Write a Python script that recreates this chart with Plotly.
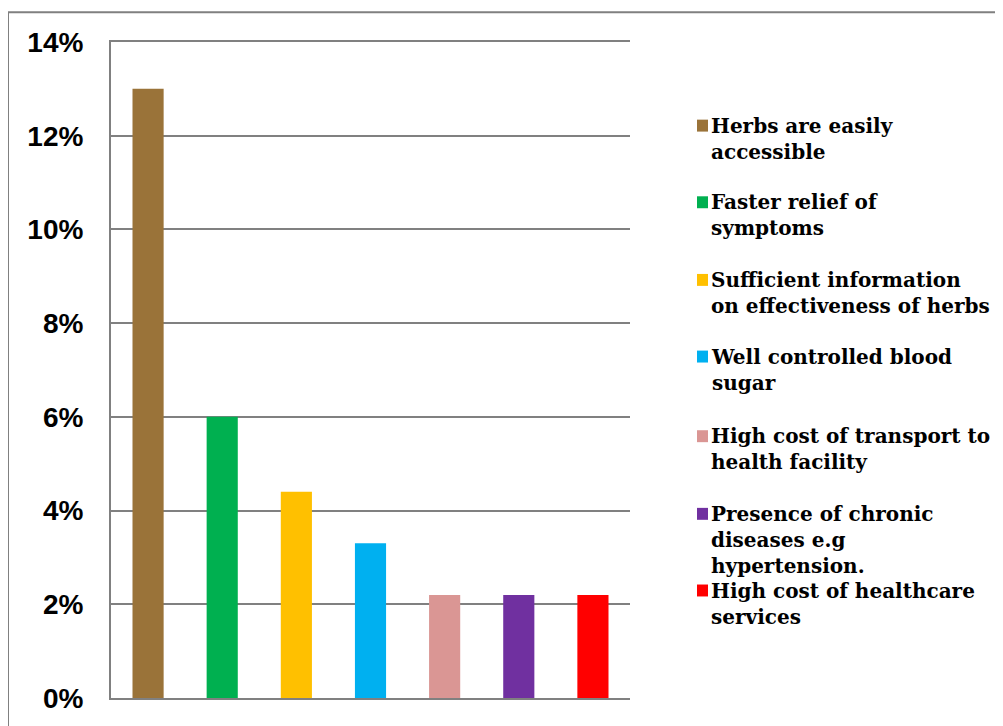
import plotly.graph_objects as go

categories = [
    "Herbs are easily accessible",
    "Faster relief of symptoms",
    "Sufficient information on effectiveness of herbs",
    "Well controlled blood sugar",
    "High cost of transport to health facility",
    "Presence of chronic diseases e.g hypertension.",
    "High cost of healthcare services",
]
legend_labels = [
    "Herbs are easily<br>accessible",
    "Faster relief of<br>symptoms",
    "Sufficient information<br>on effectiveness of herbs",
    "Well controlled blood<br>sugar",
    "High cost of transport to<br>health facility",
    "Presence of chronic<br>diseases e.g<br>hypertension.",
    "High cost of healthcare<br>services",
]
values = [13.0, 6.0, 4.4, 3.3, 2.2, 2.2, 2.2]
tick_vals = [0, 2, 4, 6, 8, 10, 12, 14]
tick_text = ["0%", "2%", "4%", "6%", "8%", "10%", "12%", "14%"]
colors = ["#9A7339", "#00B050", "#FFC000", "#00B0F0", "#DA9694", "#7030A0", "#FF0000"]

# page offset (browser body margin)
OFF = 8
# plot area in screen pixels
L, R, T, B = 111, 630, 42, 701
W, H = 1003 - OFF, 726 - OFF


def px_x(p):
    return (p - L) / (R - L)


def px_y(p):
    return (B - p) / (B - T)


fig = go.Figure()
for cat, val, col in zip(categories, values, colors):
    fig.add_trace(go.Bar(x=[cat], y=[val], marker=dict(color=col, line=dict(width=0)),
                         width=0.42, showlegend=False, name=cat))

shapes = []
annotations = []
# outer frame
shapes.append(dict(type="rect", xref="paper", yref="paper",
                   x0=px_x(8), x1=px_x(1020), y0=px_y(12), y1=px_y(740),
                   line=dict(color="#808080", width=2), fillcolor="rgba(0,0,0,0)", layer="below"))

leg_centers = [126, 203, 281, 358, 438, 516, 593]
for lab, col, cy in zip(legend_labels, colors, leg_centers):
    shapes.append(dict(type="rect", xref="paper", yref="paper",
                       x0=px_x(697), x1=px_x(708), y0=px_y(cy - 6), y1=px_y(cy + 6),
                       line=dict(width=0), fillcolor=col))
    annotations.append(dict(xref="paper", yref="paper", x=px_x(709), y=px_y(cy - 14),
                            xanchor="left", yanchor="top", align="left", showarrow=False,
                            text="<b>" + lab + "</b>",
                            font=dict(family="DejaVu Serif", size=20, color="#000000")))

fig.update_layout(
    width=W, height=H,
    margin=dict(l=L - OFF, r=W - (R - OFF), t=T - OFF, b=H - (B - OFF), pad=0),
    paper_bgcolor="white", plot_bgcolor="white",
    barmode="overlay",
    shapes=shapes,
    annotations=annotations,
    xaxis=dict(showticklabels=False, showgrid=False, zeroline=False, mirror=True,
               showline=True, linecolor="#808080", linewidth=2, ticks=""),
    yaxis=dict(range=[0, 14], tickvals=tick_vals, ticktext=tick_text,
               showgrid=True, gridcolor="#808080", gridwidth=2,
               zeroline=False, showline=True, linecolor="#808080", linewidth=2,
               ticks="", ticklabelstandoff=20,
               tickfont=dict(family="Liberation Sans", size=28, color="#000000", weight="bold")),
)

fig.write_html("out.html")
